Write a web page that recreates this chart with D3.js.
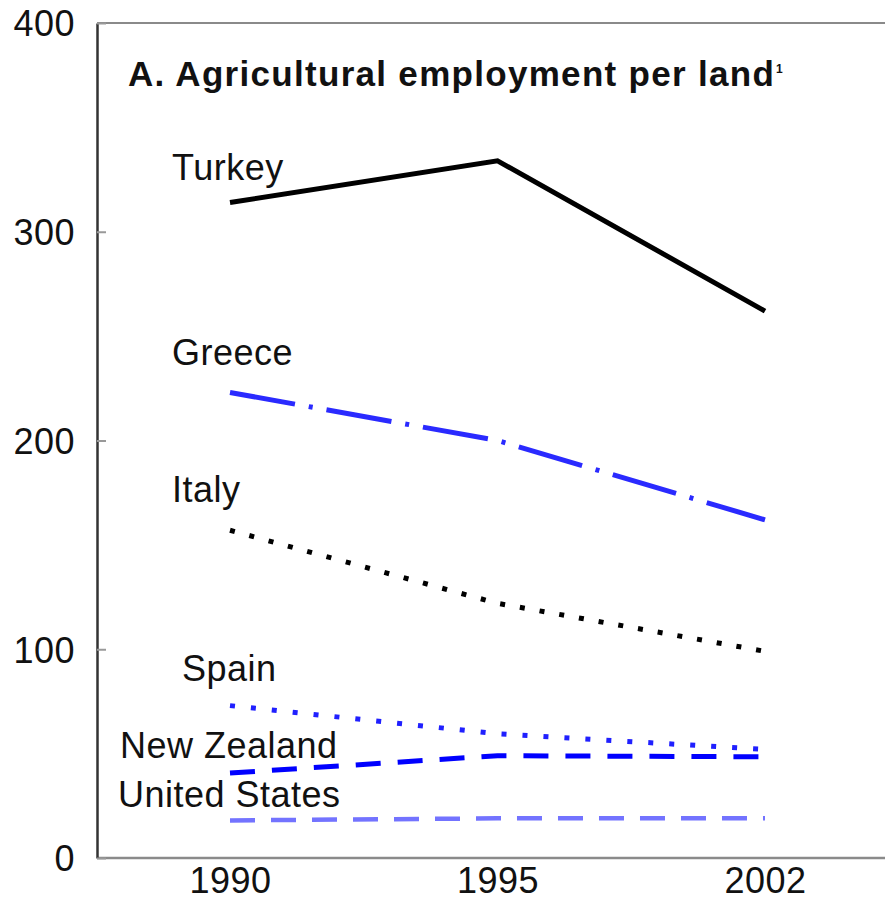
<!DOCTYPE html>
<html>
<head>
<meta charset="utf-8">
<script src="https://cdn.jsdelivr.net/npm/d3@7/dist/d3.min.js"></script>
<style>
  html, body { margin: 0; padding: 0; background: #fff; }
  svg { display: block; }
  text { font-family: "Liberation Sans", Arial, Helvetica, sans-serif; fill: #111; }
</style>
</head>
<body>
<svg id="chart" width="885" height="898"></svg>
<script>
// Agricultural employment per land, selected countries
const years = ["1990", "1995", "2002"];
const yTicks = [0, 100, 200, 300, 400];

const turkey       = [314, 334, 262];
const greece       = [223, 200, 162];
const italy        = [157, 122, 99];
const spain        = [73, 59.5, 52];
const newZealand   = [40.7, 49, 48.5];
const unitedStates = [18, 19, 19];

const seriesNames = ["Turkey", "Greece", "Italy", "Spain", "New Zealand", "United States"];
const seriesValues = [turkey, greece, italy, spain, newZealand, unitedStates];

// drawing styles for each series
const styles = {
  "Turkey":        { color: "#000000", width: 5,   dash: null,          label: [172, 180] },
  "Greece":        { color: "#2a2aff", width: 5,   dash: "66 14 4 14",  label: [172, 365] },
  "Italy":         { color: "#000000", width: 5,   dash: "5 15",        label: [172, 502] },
  "Spain":         { color: "#2020ff", width: 5,   dash: "5 16",        label: [182, 681] },
  "New Zealand":   { color: "#0000ff", width: 5,   dash: "25 17",       label: [120, 758] },
  "United States": { color: "#7373ff", width: 4.5, dash: "25 16",       label: [118, 807] }
};

const svg = d3.select("#chart");
const plotLeft = 97, plotRight = 885, plotTop = 23, plotBottom = 858;
const labelSize = 36, labelSpacing = 0.5;

const x = d3.scalePoint().domain(years).range([230, 765]);
const y = d3.scaleLinear().domain([0, 400]).range([plotBottom, plotTop]);

// frame
svg.append("line").attr("x1", plotLeft).attr("x2", plotRight).attr("y1", plotTop).attr("y2", plotTop)
  .attr("stroke", "#8a8a8a").attr("stroke-width", 2);
svg.append("line").attr("x1", plotLeft).attr("x2", plotRight).attr("y1", plotBottom).attr("y2", plotBottom)
  .attr("stroke", "#8a8a8a").attr("stroke-width", 2.5);

// y axis: inward ticks, labels on the left
const yAxis = svg.append("g")
  .attr("transform", `translate(${plotLeft},0)`)
  .call(d3.axisLeft(y).tickValues(yTicks).tickSizeInner(-9).tickSizeOuter(0).tickPadding(22));
yAxis.select(".domain").attr("stroke", "#333").attr("stroke-width", 2.5);
yAxis.selectAll(".tick line").attr("stroke", "#999").attr("stroke-width", 2);
yAxis.selectAll(".tick text").attr("font-size", labelSize).attr("letter-spacing", labelSpacing)
  .attr("fill", "#111").attr("font-family", "Liberation Sans, Arial, sans-serif").attr("dy", "0.36em");

// x axis labels
const xAxis = svg.append("g")
  .attr("transform", `translate(0,${plotBottom})`)
  .call(d3.axisBottom(x).tickSize(0).tickPadding(9));
xAxis.select(".domain").remove();
xAxis.selectAll(".tick text").attr("font-size", labelSize).attr("letter-spacing", labelSpacing)
  .attr("fill", "#111").attr("font-family", "Liberation Sans, Arial, sans-serif");

// lines and their labels
const line = d3.line().x((d, i) => x(years[i])).y(d => y(d));
seriesNames.forEach((name, k) => {
  const s = styles[name];
  svg.append("path")
    .datum(seriesValues[k])
    .attr("d", line)
    .attr("fill", "none")
    .attr("stroke", s.color)
    .attr("stroke-width", s.width)
    .attr("stroke-linejoin", "miter")
    .attr("stroke-dasharray", s.dash);
  svg.append("text")
    .attr("x", s.label[0]).attr("y", s.label[1])
    .attr("font-size", labelSize)
    .attr("letter-spacing", labelSpacing)
    .text(name);
});

// title
const title = svg.append("text")
  .attr("x", 128).attr("y", 86)
  .attr("font-size", 35).attr("font-weight", "bold")
  .attr("letter-spacing", 1.3)
  .text("A. Agricultural employment per land");
title.append("tspan").attr("font-size", 12).attr("dy", -13).attr("dx", 1).text("1");
</script>
</body>
</html>
